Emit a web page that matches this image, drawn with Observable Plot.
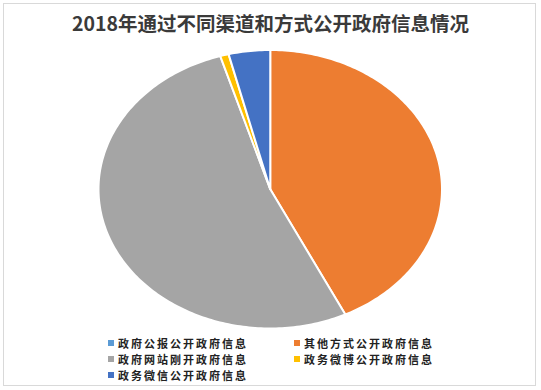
<!DOCTYPE html>
<html>
<head>
<meta charset="utf-8">
<script src="https://cdn.jsdelivr.net/npm/d3@7"></script>
<script src="https://cdn.jsdelivr.net/npm/@observablehq/plot@0.6"></script>
<style>
  html, body { margin: 0; padding: 0; background: #fff; }
  #wrap { position: relative; width: 541px; height: 390px; overflow: hidden; font-family: "Noto Sans CJK SC", "Noto Sans", sans-serif; }
  #frame { position: absolute; left: 3px; top: 3px; width: 533px; height: 383px; border: 1px solid #d9d9d9; box-sizing: border-box; }
  #title { position: absolute; left: 0; width: 541px; top: 10px; text-align: center; font-size: 19.5px; font-weight: 700; color: #3a3a3a; line-height: 26px; }
  #chart { position: absolute; left: 0; top: 0; }
  .leg { position: absolute; font-size: 11px; letter-spacing: 2px; font-weight: 700; color: #222; line-height: 11px; height: 11px; white-space: nowrap; }
  .sw { position: absolute; width: 6px; height: 6px; }
</style>
</head>
<body>
<div id="wrap">
  <div id="frame"></div>
  <div id="chart"></div>
  <div id="title"></div>
  <div id="legend"></div>
</div>
<script>
const title = "2018年通过不同渠道和方式公开政府信息情况";
const names = ["政府公报公开政府信息", "其他方式公开政府信息", "政府网站刚开政府信息", "政务微博公开政府信息", "政务微信公开政府信息"];
const values = [0, 42.8, 52.5, 0.8, 3.9];
const colors = ["#5B9BD5", "#ED7D31", "#A5A5A5", "#FFC000", "#4472C4"];

// build slice outlines (clockwise from 12 o'clock) in unit coordinates
const total = d3.sum(values);
const pts = [];
let acc = 0;
names.forEach((name, i) => {
  const a0 = acc / total * 2 * Math.PI;
  acc += values[i];
  const a1 = acc / total * 2 * Math.PI;
  if (values[i] <= 0) return;
  pts.push({name, x: 0, y: 0});
  const n = Math.max(2, Math.ceil((a1 - a0) / (Math.PI / 180)));
  for (let k = 0; k <= n; k++) {
    const a = a0 + (a1 - a0) * k / n;
    pts.push({name, x: Math.sin(a), y: Math.cos(a)});
  }
});

const chart = Plot.plot({
  width: 541,
  height: 390,
  marginLeft: 98,
  marginRight: 99.5,
  marginTop: 49.5,
  marginBottom: 62,
  x: {domain: [-1, 1], axis: null},
  y: {domain: [-1, 1], axis: null},
  color: {domain: names, range: colors},
  style: {background: "transparent"},
  marks: [
    Plot.line(pts, {x: "x", y: "y", z: "name", fill: "name", stroke: "white", strokeWidth: 2, strokeLinejoin: "round", curve: "linear-closed"})
  ]
});
document.getElementById("chart").appendChild(chart);
document.getElementById("title").textContent = title;

// legend (Excel order: two columns)
const legPos = [[108, 343], [294, 343], [108, 359], [294, 359], [108, 375]];
const leg = document.getElementById("legend");
names.forEach((name, i) => {
  const [lx, ly] = legPos[i];
  const sw = document.createElement("div");
  sw.className = "sw";
  sw.style.left = lx + "px";
  sw.style.top = (ly - 3) + "px";
  sw.style.background = colors[i];
  leg.appendChild(sw);
  const t = document.createElement("div");
  t.className = "leg";
  t.style.left = (lx + 10) + "px";
  t.style.top = (ly - 5.5) + "px";
  t.textContent = name;
  leg.appendChild(t);
});
</script>
</body>
</html>
